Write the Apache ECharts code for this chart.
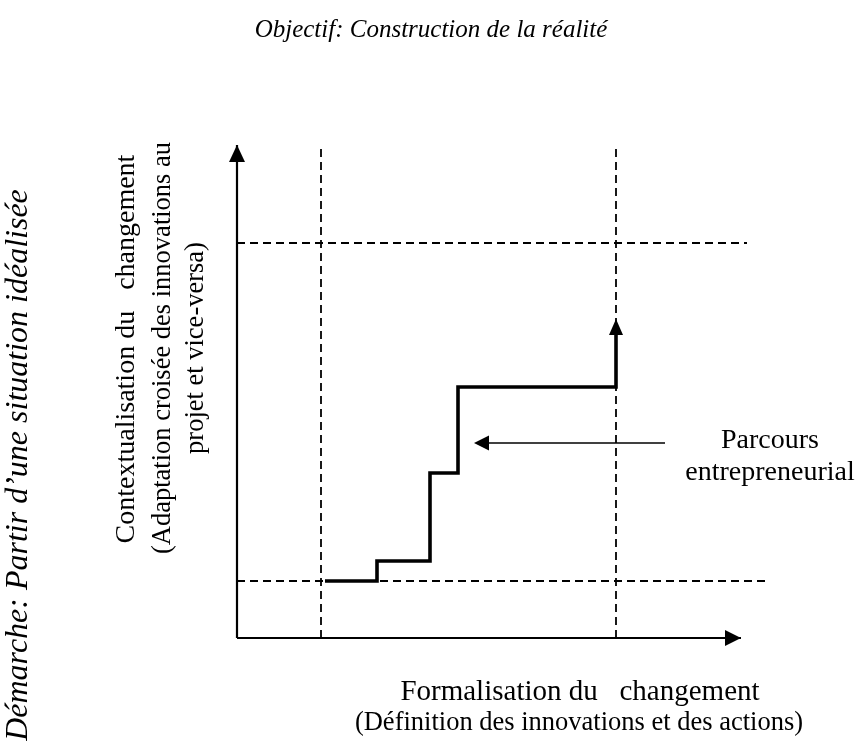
<!DOCTYPE html>
<html>
<head>
<meta charset="utf-8">
<script src="https://cdn.jsdelivr.net/npm/echarts@6/dist/echarts.min.js"></script>
<style>html,body{margin:0;padding:0;background:#fff}#c{width:859px;height:753px}</style>
</head>
<body>
<div id="c"></div>
<script>
// Data (axis units: x 0..108, y 0..100)
const axisXLine = [[0, 0], [100.8, 0]];
const axisYLine = [[0, 0], [0, 98.6]];
const dashV1 = [[16.8, 0], [16.8, 98.6]];
const dashV2 = [[75.8, 0], [75.8, 98.0]];
const dashH1 = [[0, 11.4], [106, 11.4]];
const dashH2 = [[0, 79], [102, 79]];
const parcours = [[17.6, 11.4], [28, 11.4], [28, 15.4], [38.6, 15.4], [38.6, 33], [44.2, 33], [44.2, 50.2], [75.8, 50.2], [75.8, 61]];
const pointer = [[85.6, 39], [49, 39]];
const arrowHeads = [
  { value: [0, 98.6], dir: 'up', size: [16, 17] },
  { value: [100.8, 0], dir: 'right', size: [16, 16] },
  { value: [75.8, 63.8], dir: 'up', size: [14, 16] },
  { value: [47.4, 39], dir: 'left', size: [15, 15] }
];
const titleText = 'Objectif: Construction de la réalité';
const xLabel = ['Formalisation du   changement', '(Définition des innovations et des actions)'];
const yLabel = ['Contextualisation du   changement', '(Adaptation croisée des innovations au', 'projet et vice-versa)'];
const sideLabel = 'Démarche: Partir d\u2019une situation idéalisée';
const pointerLabel = ['Parcours', 'entrepreneurial'];

const FONT = '"Liberation Serif", "Times New Roman", serif';
const dashStyle = { color: '#000', width: 1.8, type: [8, 5] };
function seg(data, style, z) {
  return { type: 'line', data: data, symbol: 'none', silent: true, z: z || 2,
    lineStyle: style, animation: false };
}
function arrowItem(a) {
  const rot = a.dir === 'up' ? 0 : a.dir === 'right' ? -90 : 90;
  const h = a.size[1] / 2;
  const off = a.dir === 'up' ? [0, h] : a.dir === 'right' ? [-h, 0] : [h, 0];
  return { value: a.value, symbol: 'triangle', symbolSize: a.size, symbolRotate: rot, symbolOffset: off };
}
function txt(s, x, y, size, opts) {
  opts = opts || {};
  return { type: 'text', x: x, y: y, rotation: opts.rot || 0,
    style: { text: s, font: (opts.italic ? 'italic ' : '') + size + 'px ' + FONT, fill: '#000', align: 'center', verticalAlign: 'middle' } };
}

const chart = echarts.init(document.getElementById('c'), null, { renderer: 'canvas' });
chart.setOption({
  animation: false,
  backgroundColor: '#fff',
  grid: { left: 237, top: 138, width: 540, height: 500 },
  xAxis: { type: 'value', min: 0, max: 108, show: false },
  yAxis: { type: 'value', min: 0, max: 100, show: false },
  series: [
    seg(dashV1, dashStyle), seg(dashV2, dashStyle), seg(dashH1, dashStyle), seg(dashH2, dashStyle),
    seg(axisXLine, { color: '#000', width: 2.2 }, 3),
    seg(axisYLine, { color: '#000', width: 2.2 }, 3),
    seg(parcours, { color: '#000', width: 3.6, join: 'miter', cap: 'butt' }, 4),
    seg(pointer, { color: '#000', width: 1.5 }, 4),
    { type: 'scatter', silent: true, z: 5, itemStyle: { color: '#000', opacity: 1 },
      data: arrowHeads.map(arrowItem), animation: false }
  ],
  graphic: [
    txt(titleText, 431, 30, 25, { italic: true }),
    txt(xLabel[0], 580, 692, 29),
    txt(xLabel[1], 579, 723, 26.5),
    txt(yLabel[0], 127, 349, 28, { rot: Math.PI / 2 }),
    txt(yLabel[1], 163, 348, 26.5, { rot: Math.PI / 2 }),
    txt(yLabel[2], 196, 348, 26.5, { rot: Math.PI / 2 }),
    txt(sideLabel, 19, 465, 32, { rot: Math.PI / 2, italic: true }),
    txt(pointerLabel[0], 770, 441, 28),
    txt(pointerLabel[1], 770, 473, 28)
  ]
});
</script>
</body>
</html>
